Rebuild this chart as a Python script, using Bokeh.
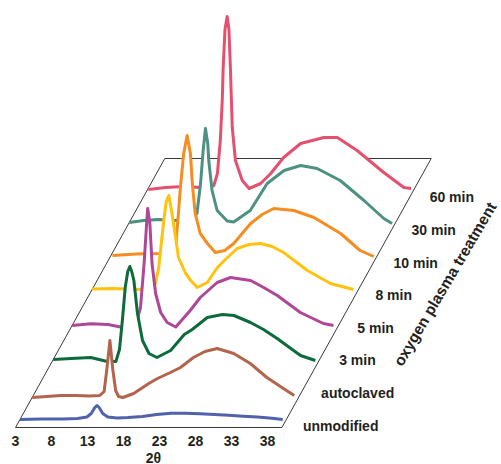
from bokeh.plotting import figure
from bokeh.models import Range1d
from bokeh.embed import file_html
from bokeh.resources import INLINE
from bokeh.core.properties import value

# ---------------- data ----------------
series_names = ["unmodified", "autoclaved", "3 min", "5 min", "8 min", "10 min", "30 min", "60 min"]
series_colors = ["#5162ad", "#b3644c", "#0d6b3b", "#ad4798", "#fec20f", "#f68d20", "#4d9182", "#e6506f"]
# waterfall offset of each trace along the depth axis (intensity units)
series_offset = [8, 30, 68, 102, 138, 172, 205, 238]

tt_unmodified = [3, 6, 9, 11, 12.3, 12.9, 13.4, 13.7, 14.0, 14.5, 15.2, 16.5, 18, 20, 22, 24, 26, 28, 30, 32, 34, 36, 38, 39.5]
i_unmodified = [0, 0.5, 0.5, 1, 2.5, 6, 12, 14, 12, 6, 2.5, 1.5, 2, 3, 5, 6.3, 6.3, 5.8, 5, 4.3, 3.3, 2.5, 1.2, 0]

tt_autoclaved = [3, 5, 7, 9, 11, 12.4, 13.0, 13.4, 13.8, 14.2, 14.6, 15.0, 15.6, 17.1, 19.2, 20.4, 22.2, 23.6, 25.4, 27, 28.7, 31, 33.3, 35.6, 37.9, 39.4]
i_autoclaved = [0, 1, 2, 2, 1.5, 2, 6, 30, 57, 28, 7, 1, 0, 4, 14, 19, 25, 30, 40, 46, 49, 44, 34, 20, 9, 2]

tt_3min = [3, 5.5, 8.2, 10.5, 11.7, 12.2, 12.6, 13.0, 13.35, 13.64, 13.9, 14.2, 14.7, 15.4, 16.3, 17.4, 19.3, 21.2, 22.3, 24.4, 26.5, 28.1, 30.4, 32.2, 34.1, 36, 37.35, 39.4]
i_3min = [0, 1, 2, -2, -2, 10, 39, 72, 88, 93, 88, 79, 46, 19, 6, 2, 9, 25, 30, 42, 45, 44, 37, 30, 21, 11, 4, -1]

tt_5min = [3, 5.6, 8, 9.7, 11.2, 12.0, 12.5, 13.0, 13.35, 13.5, 13.8, 14.1, 14.6, 15.3, 16.2, 17.4, 19.4, 20.8, 23.15, 25, 27.8, 29.6, 31.5, 34.7, 37.9, 39.3]
i_5min = [0, 1.7, 1, -1.5, 0, 5, 18, 62, 102, 117, 102, 62, 32, 13, 3, -1.5, 15, 28, 43, 48, 45, 38, 30, 13, 2, 0]

tt_8min = [3, 6, 9.3, 11, 11.8, 12.26, 12.7, 12.96, 13.3, 13.65, 14.1, 14.6, 15.0, 16.0, 16.7, 17.6, 19.0, 20.4, 21.8, 23.15, 24.8, 26.4, 28, 29.6, 32.9, 36.1, 39.3]
i_8min = [0.5, 1, 0, 1, 6, 22, 52, 69, 88, 94, 76, 52, 32, 16, 9, 2, 7, 22, 32, 41, 45, 46, 43, 37, 19, 6, 0]

tt_10min = [3.2, 6.5, 9.9, 11.3, 12.0, 12.4, 12.65, 13.1, 13.58, 14.04, 14.3, 14.7, 15.4, 16.4, 17.5, 18.8, 20.05, 22.4, 24, 25.6, 28.4, 31.2, 34.9, 37.6, 39.5]
i_10min = [0, 1.5, 2, 4, 10, 45, 68, 102, 120, 102, 72, 42, 22, 12, 3, 5, 12, 32, 41, 47, 45, 38, 22, 5, -1]

tt_30min = [3, 5, 7, 9.2, 11, 11.9, 12.4, 12.9, 13.26, 13.58, 13.9, 14.04, 14.5, 15.2, 16.6, 17.5, 19.8, 22.15, 24.5, 26.8, 29.1, 32.3, 35.6, 38.35, 39.5]
i_30min = [0, 2, 3, 2, 3, 5, 9, 39, 72, 94, 79, 62, 32, 12, 1.5, 0.5, 12, 39, 52, 57, 54, 42, 22, 4, -1]

tt_60min = [3.1, 5.5, 8.0, 10.4, 11.75, 12.2, 12.7, 13.1, 13.37, 13.5, 13.75, 14.05, 14.3, 14.5, 14.76, 15.2, 16.15, 17.1, 18.7, 20.1, 21.9, 24.25, 27.5, 29.35, 32.1, 35.8, 38.6, 39.6]
i_60min = [0, 2, 3, 2, 3, 4, 16, 49, 89, 122, 160, 173, 160, 122, 62, 29, 9, 1, 6, 16, 32, 46, 52, 52, 39, 17, 2, 1]

series_tt = [tt_unmodified, tt_autoclaved, tt_3min, tt_5min, tt_8min, tt_10min, tt_30min, tt_60min]
series_i = [i_unmodified, i_autoclaved, i_3min, i_5min, i_8min, i_10min, i_30min, i_60min]

tick_values = [3, 8, 13, 18, 23, 28, 33, 38]
tick_labels = ["3", "8", "13", "18", "23", "28", "33", "38"]
x_title = "2θ"
depth_title = "oxygen plasma treatment"

# ---------------- oblique projection ----------------
PX_PER_DEG = 7.2          # horizontal pixels per degree 2θ
SKEW = 0.555              # horizontal shift per unit of depth
TT_MIN, TT_MAX = 3.0, 40.0
DEPTH_MAX = 269.0


def proj_x(tt, depth):
    return tt + SKEW * depth / PX_PER_DEG


FONT = value("Liberation Sans")

p = figure(width=501, height=464,
           x_range=Range1d(TT_MIN - 15 / PX_PER_DEG, TT_MIN + 486 / PX_PER_DEG),
           y_range=Range1d(-37, 427),
           output_backend="svg", toolbar_location=None,
           x_axis_location=None, y_axis_location=None,
           min_border=0, min_border_left=0, min_border_right=0,
           min_border_top=0, min_border_bottom=0)
p.grid.visible = False
p.outline_line_color = None
p.background_fill_color = "white"
p.border_fill_color = "white"

# base plane
px = [proj_x(TT_MIN, 0), proj_x(TT_MAX, 0), proj_x(TT_MAX, DEPTH_MAX), proj_x(TT_MIN, DEPTH_MAX), proj_x(TT_MIN, 0)]
py = [0, 0, DEPTH_MAX, DEPTH_MAX, 0]
p.line(px, py, line_color="#3a3a3a", line_width=1)

# traces back to front, each hiding what lies behind it
for k in range(len(series_names) - 1, -1, -1):
    d = series_offset[k]
    xs = [proj_x(t, d) for t in series_tt[k]]
    ys = [d + v for v in series_i[k]]
    base = [d] * len(xs)
    p.varea(x=xs, y1=base, y2=ys, fill_color="white")
    p.line(xs, ys, line_color=series_colors[k], line_width=3, line_join="round")

# x tick labels
p.text(x=tick_values, y=[-13.7] * len(tick_values), text=tick_labels,
       text_font=FONT, text_font_style="bold", text_font_size="14px",
       text_color="#231f20", text_align="center", text_baseline="middle")
p.text(x=[TT_MIN + 138 / PX_PER_DEG], y=[-30], text=[x_title],
       text_font=FONT, text_font_style="bold", text_font_size="14px",
       text_color="#231f20", text_align="center", text_baseline="middle")

# series labels along the right edge
lab_depth = [2 + 32.6 * j for j in range(len(series_names))]
lab_x = [proj_x(TT_MAX, dd) + 20 / PX_PER_DEG for dd in lab_depth]
p.text(x=lab_x, y=lab_depth, text=series_names,
       text_font=FONT, text_font_style="bold", text_font_size="14px",
       text_color="#231f20", text_align="left", text_baseline="middle")

# depth axis title
p.text(x=[TT_MIN + (397 - 15) / PX_PER_DEG], y=[427 - 364], text=[depth_title],
       angle=59.5, angle_units="deg",
       text_font=FONT, text_font_style="bold", text_font_size="15.5px",
       text_color="#231f20", text_align="left", text_baseline="alphabetic")

open("out.html", "w").write(file_html(p, INLINE))
